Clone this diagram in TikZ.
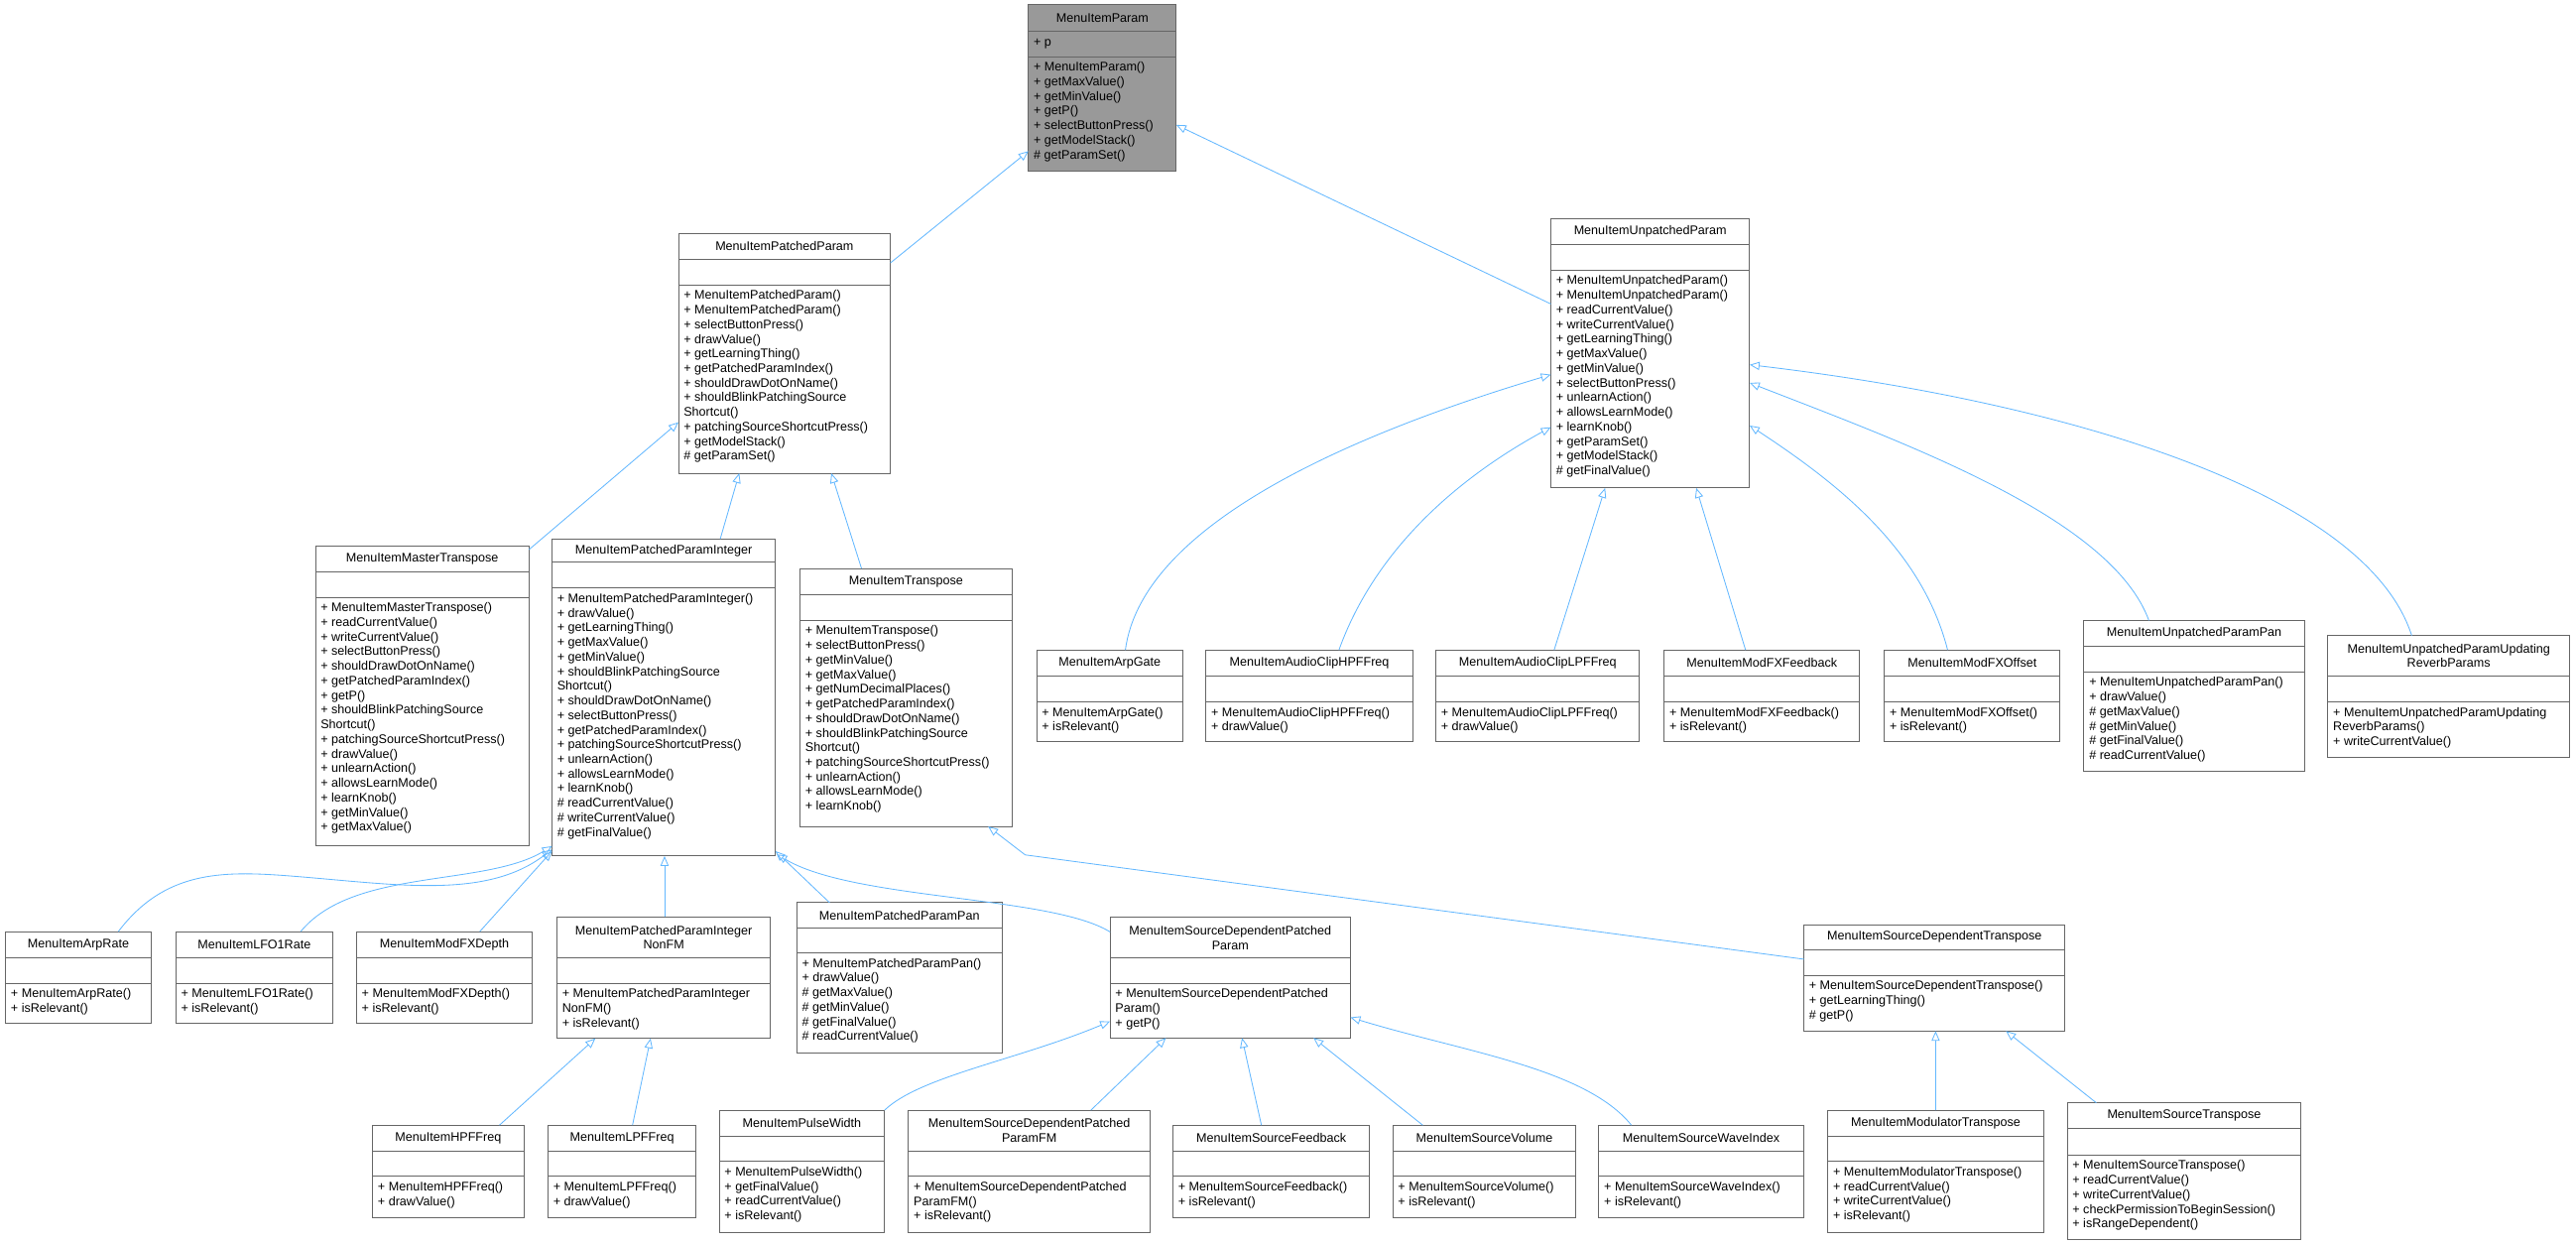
\documentclass[tikz,border=0pt]{standalone}
\usepackage{fontspec}
\setmainfont{Liberation Sans}
\usetikzlibrary{arrows.meta,calc}
\definecolor{edgec}{HTML}{63B8FF}
\definecolor{linec}{HTML}{666666}
\def\curfill{white}
\tikzset{
  cbox/.style={draw=linec, line width=0.6pt, fill=\curfill, inner sep=0pt, outer sep=0pt},
  sep/.style={draw=linec, line width=0.6pt},
  ttl/.style={align=center, inner sep=0pt, font=\fontsize{7.6}{8.9}\selectfont},
  mth/.style={anchor=north west, align=left, inner sep=0pt, font=\fontsize{7.6}{8.9}\selectfont},
  edge/.style={draw=edgec, line width=0.5pt, -{Triangle[open, length=6pt, width=5pt]}},
}
\newcommand\cls[9]{%
  \node[cbox, minimum width={(#3-#2)*1pt}, minimum height={(#7-#4)*1pt}, anchor=north west] (#1) at (#2,#4) {};
  \draw[sep] (#2,#5) -- (#3,#5);
  \draw[sep] (#2,#6) -- (#3,#6);
  \node[ttl] at ({(#2+#3)/2},{(#4+#5)/2}) {#8};
  \node[mth] at ({#2+3},{#6+3}) {#9};
}
\begin{document}
\begin{tikzpicture}[x=1pt,y=-1pt]
\useasboundingbox[fill=white] (0,0) rectangle (1568,757);
\def\curfill{black!40}
\cls{P}{626}{716}{3}{19}{34.5}{104}{MenuItemParam}{+ MenuItemParam()\\+ getMaxValue()\\+ getMinValue()\\+ getP()\\+ selectButtonPress()\\+ getModelStack()\\\# getParamSet()}
\node[mth, anchor=west] at (629,26.75) {+ p};
\def\curfill{white}
\cls{PP}{413}{542}{142}{158}{173.5}{288}{MenuItemPatchedParam}{+ MenuItemPatchedParam()\\+ MenuItemPatchedParam()\\+ selectButtonPress()\\+ drawValue()\\+ getLearningThing()\\+ getPatchedParamIndex()\\+ shouldDrawDotOnName()\\+ shouldBlinkPatchingSource\\Shortcut()\\+ patchingSourceShortcutPress()\\+ getModelStack()\\\# getParamSet()}
\cls{UP}{944}{1065}{133}{149}{164.5}{297}{MenuItemUnpatchedParam}{+ MenuItemUnpatchedParam()\\+ MenuItemUnpatchedParam()\\+ readCurrentValue()\\+ writeCurrentValue()\\+ getLearningThing()\\+ getMaxValue()\\+ getMinValue()\\+ selectButtonPress()\\+ unlearnAction()\\+ allowsLearnMode()\\+ learnKnob()\\+ getParamSet()\\+ getModelStack()\\\# getFinalValue()}
\cls{MT}{192}{322}{332.5}{348}{363.6}{515}{MenuItemMasterTranspose}{+ MenuItemMasterTranspose()\\+ readCurrentValue()\\+ writeCurrentValue()\\+ selectButtonPress()\\+ shouldDrawDotOnName()\\+ getPatchedParamIndex()\\+ getP()\\+ shouldBlinkPatchingSource\\Shortcut()\\+ patchingSourceShortcutPress()\\+ drawValue()\\+ unlearnAction()\\+ allowsLearnMode()\\+ learnKnob()\\+ getMinValue()\\+ getMaxValue()}
\cls{PPI}{336}{472}{328}{342}{358}{521}{MenuItemPatchedParamInteger}{+ MenuItemPatchedParamInteger()\\+ drawValue()\\+ getLearningThing()\\+ getMaxValue()\\+ getMinValue()\\+ shouldBlinkPatchingSource\\Shortcut()\\+ shouldDrawDotOnName()\\+ selectButtonPress()\\+ getPatchedParamIndex()\\+ patchingSourceShortcutPress()\\+ unlearnAction()\\+ allowsLearnMode()\\+ learnKnob()\\\# readCurrentValue()\\\# writeCurrentValue()\\\# getFinalValue()}
\cls{TR}{487}{616}{346}{362}{377.6}{503}{MenuItemTranspose}{+ MenuItemTranspose()\\+ selectButtonPress()\\+ getMinValue()\\+ getMaxValue()\\+ getNumDecimalPlaces()\\+ getPatchedParamIndex()\\+ shouldDrawDotOnName()\\+ shouldBlinkPatchingSource\\Shortcut()\\+ patchingSourceShortcutPress()\\+ unlearnAction()\\+ allowsLearnMode()\\+ learnKnob()}
\cls{AG}{631}{720}{395.6}{411.5}{427.3}{451.5}{MenuItemArpGate}{+ MenuItemArpGate()\\+ isRelevant()}
\cls{ACH}{734}{860}{395.6}{411.5}{427.3}{451.5}{MenuItemAudioClipHPFFreq}{+ MenuItemAudioClipHPFFreq()\\+ drawValue()}
\cls{ACL}{874}{998}{395.6}{411.5}{427.3}{451.5}{MenuItemAudioClipLPFFreq}{+ MenuItemAudioClipLPFFreq()\\+ drawValue()}
\cls{MFB}{1013}{1132}{395.6}{411.5}{427.3}{451.5}{MenuItemModFXFeedback}{+ MenuItemModFXFeedback()\\+ isRelevant()}
\cls{MFO}{1147}{1254}{395.6}{411.5}{427.3}{451.5}{MenuItemModFXOffset}{+ MenuItemModFXOffset()\\+ isRelevant()}
\cls{UPP}{1268.5}{1402.6}{377.6}{393.3}{409}{469.5}{MenuItemUnpatchedParamPan}{+ MenuItemUnpatchedParamPan()\\+ drawValue()\\\# getMaxValue()\\\# getMinValue()\\\# getFinalValue()\\\# readCurrentValue()}
\cls{REV}{1417}{1564}{386.8}{411.5}{427.3}{460.7}{MenuItemUnpatchedParamUpdating\\ReverbParams}{+ MenuItemUnpatchedParamUpdating\\ReverbParams()\\+ writeCurrentValue()}
\cls{AR}{3.4}{92}{567}{583}{598.6}{623}{MenuItemArpRate}{+ MenuItemArpRate()\\+ isRelevant()}
\cls{LFO}{107}{202.5}{567}{583}{598.6}{623}{MenuItemLFO1Rate}{+ MenuItemLFO1Rate()\\+ isRelevant()}
\cls{MFD}{217}{324}{567}{583}{598.6}{623}{MenuItemModFXDepth}{+ MenuItemModFXDepth()\\+ isRelevant()}
\cls{NF}{339}{469}{558}{583}{598.6}{632}{MenuItemPatchedParamInteger\\NonFM}{+ MenuItemPatchedParamInteger\\NonFM()\\+ isRelevant()}
\cls{PPP}{485}{610}{549.4}{565}{580}{641}{MenuItemPatchedParamPan}{+ MenuItemPatchedParamPan()\\+ drawValue()\\\# getMaxValue()\\\# getMinValue()\\\# getFinalValue()\\\# readCurrentValue()}
\cls{SDPP}{675.7}{822}{558.2}{583.2}{598.4}{631.7}{MenuItemSourceDependentPatched\\Param}{+ MenuItemSourceDependentPatched\\Param()\\+ getP()}
\cls{SDT}{1098}{1257}{562.8}{578}{593.8}{627.5}{MenuItemSourceDependentTranspose}{+ MenuItemSourceDependentTranspose()\\+ getLearningThing()\\\# getP()}
\cls{HPF}{226.8}{318.8}{684.8}{700.5}{716}{741}{MenuItemHPFFreq}{+ MenuItemHPFFreq()\\+ drawValue()}
\cls{LPF}{333.6}{423.6}{684.8}{700.5}{716}{741}{MenuItemLPFFreq}{+ MenuItemLPFFreq()\\+ drawValue()}
\cls{PW}{437.8}{538.4}{675.7}{691.4}{707}{750}{MenuItemPulseWidth}{+ MenuItemPulseWidth()\\+ getFinalValue()\\+ readCurrentValue()\\+ isRelevant()}
\cls{FM}{553}{700}{675.7}{700.5}{716}{750}{MenuItemSourceDependentPatched\\ParamFM}{+ MenuItemSourceDependentPatched\\ParamFM()\\+ isRelevant()}
\cls{SF}{714}{833.6}{684.8}{700.5}{716}{741}{MenuItemSourceFeedback}{+ MenuItemSourceFeedback()\\+ isRelevant()}
\cls{SV}{847.8}{959.2}{684.8}{700.5}{716}{741}{MenuItemSourceVolume}{+ MenuItemSourceVolume()\\+ isRelevant()}
\cls{SW}{973.2}{1097.7}{684.8}{700.5}{716}{741}{MenuItemSourceWaveIndex}{+ MenuItemSourceWaveIndex()\\+ isRelevant()}
\cls{MOT}{1112.6}{1243.9}{675.7}{691.4}{707}{750}{MenuItemModulatorTranspose}{+ MenuItemModulatorTranspose()\\+ readCurrentValue()\\+ writeCurrentValue()\\+ isRelevant()}
\cls{ST}{1258.3}{1400.6}{671.2}{686.8}{703}{754.6}{MenuItemSourceTranspose}{+ MenuItemSourceTranspose()\\+ readCurrentValue()\\+ writeCurrentValue()\\+ checkPermissionToBeginSession()\\+ isRangeDependent()}
% edges
\draw[edge] ($(PP.north east)+(0,18)$) -- ($(P.north west)+(0,89)$);
\draw[edge] ($(UP.north west)+(0,52)$) -- ($(P.north east)+(0,73)$);
\draw[edge] ($(MT.north east)+(0,2)$) -- ($(PP.north west)+(0,115)$);
\draw[edge] ($(PPI.north west)+(102.4,0)$) -- ($(PP.south west)+(37,0)$);
\draw[edge] ($(TR.north west)+(37.4,0)$) -- ($(PP.south west)+(93,0)$);
\draw[edge] ($(AG.north west)+(54,0)$) .. controls (695,320) and (820,265) .. ($(UP.north west)+(0,95)$);
\draw[edge] ($(ACH.north west)+(81,0)$) .. controls (835,340) and (880,295) .. ($(UP.north west)+(0,127)$);
\draw[edge] ($(ACL.north west)+(72,0)$) -- ($(UP.south west)+(33,0)$);
\draw[edge] ($(MFB.north west)+(49.5,0)$) -- ($(UP.south west)+(88.5,0)$);
\draw[edge] ($(MFO.north west)+(38.5,0)$) .. controls (1170,335) and (1120,295) .. ($(UP.north east)+(0,126)$);
\draw[edge] ($(UPP.north west)+(39.5,0)$) .. controls (1285,315) and (1160,270) .. ($(UP.north east)+(0,100)$);
\draw[edge] ($(REV.north west)+(51,0)$) .. controls (1440,300) and (1260,245) .. ($(UP.north east)+(0,89)$);
\draw[edge] ($(AR.north west)+(68.6,0)$) .. controls (100,530) and (135,530) .. (175,533) .. controls (240,538) and (295,548) .. ($(PPI.south west)+(0,-4)$);
\draw[edge] ($(LFO.north west)+(76,0)$) .. controls (215,528) and (295,540) .. ($(PPI.south west)+(0,-6)$);
\draw[edge] ($(MFD.north west)+(75,0)$) -- ($(PPI.south west)+(0,-3)$);
\draw[edge] ($(NF.north west)+(65.5,0)$) -- ($(PPI.south west)+(68.5,0)$);
\draw[edge] ($(PPP.north west)+(20,0)$) -- ($(PPI.south east)+(0,-3)$);
\draw[edge] ($(SDPP.north west)+(0,9)$) .. controls (640,545) and (520,548) .. ($(PPI.south east)+(1,-1)$);
\draw[edge] ($(SDT.north west)+(0,21)$) -- (624,520.3) -- ($(TR.south east)+(-14.5,0)$);
\draw[edge] ($(HPF.north west)+(77.2,0)$) -- ($(NF.south west)+(23.4,0)$);
\draw[edge] ($(LPF.north west)+(51.4,0)$) -- ($(NF.south west)+(57,0)$);
\draw[edge] (PW.north east) .. controls (560,655) and (620,645) .. ($(SDPP.north west)+(0,63.4)$);
\draw[edge] ($(FM.north west)+(111,0)$) -- ($(SDPP.south west)+(34,0)$);
\draw[edge] ($(SF.north west)+(53.8,0)$) -- ($(SDPP.south west)+(80.3,0)$);
\draw[edge] ($(SV.north west)+(18.2,0)$) -- ($(SDPP.south west)+(123.8,0)$);
\draw[edge] ($(SW.north west)+(19.8,0)$) .. controls (965,650) and (890,640) .. ($(SDPP.north east)+(0,61)$);
\draw[edge] ($(MOT.north west)+(65.6,0)$) -- ($(SDT.south west)+(80.2,0)$);
\draw[edge] ($(ST.north west)+(17.7,0)$) -- ($(SDT.south west)+(123,0)$);
\end{tikzpicture}
\end{document}
